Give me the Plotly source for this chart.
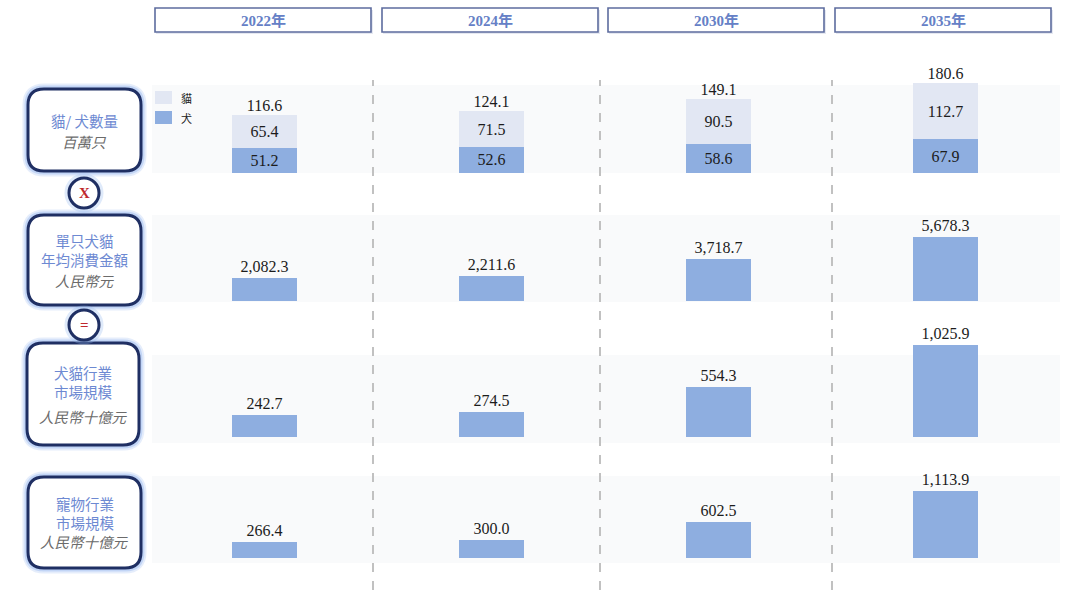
import plotly.graph_objects as go

# ---------------- data ----------------
years = ["2022年", "2024年", "2030年", "2035年"]
dogs = [51.2, 52.6, 58.6, 67.9]
cats = [65.4, 71.5, 90.5, 112.7]
totals = [116.6, 124.1, 149.1, 180.6]
spend_per_pet = [2082.3, 2211.6, 3718.7, 5678.3]
dogcat_market = [242.7, 274.5, 554.3, 1025.9]
pet_market = [266.4, 300.0, 602.5, 1113.9]

legend_names = ["貓", "犬"]
row_titles = [
    ["貓/ 犬數量"], ["單只犬貓", "年均消費金額"], ["犬貓行業", "市場規模"], ["寵物行業", "市場規模"]
]
row_units = ["百萬只", "人民幣元", "人民幣十億元", "人民幣十億元"]

W, H = 1080, 605
def PX(x):
    return x / W
def PY(y):
    return 1 - y / H

DOG = "#8eaee0"
CAT = "#e2e7f3"
SERIF = "Liberation Serif, Noto Sans CJK TC, serif"
CJK = "Noto Sans CJK TC, sans-serif"
TXT = "#1c1c1c"
NUMSIZE = 16

def fmt(v):
    return f"{v:,.1f}"

fig = go.Figure()

bw = 65 / 227
# Row 1: stacked
fig.add_trace(go.Bar(x=years, y=dogs, name=legend_names[1], marker=dict(color=DOG, line=dict(width=0)),
                     width=bw, text=[fmt(v) for v in dogs], textposition="inside",
                     insidetextanchor="middle", constraintext="none",
                     textfont=dict(family=SERIF, size=NUMSIZE, color=TXT),
                     xaxis="x", yaxis="y", hoverinfo="skip", showlegend=False))
fig.add_trace(go.Bar(x=years, y=cats, name=legend_names[0], marker=dict(color=CAT, line=dict(width=0)),
                     width=bw, text=[fmt(v) for v in cats], textposition="inside",
                     insidetextanchor="middle", constraintext="none",
                     textfont=dict(family=SERIF, size=NUMSIZE, color=TXT),
                     xaxis="x", yaxis="y", hoverinfo="skip", showlegend=False))
fig.add_trace(go.Scatter(x=years, y=totals, mode="text", text=[fmt(v) for v in totals],
                         textposition="top center", textfont=dict(family=SERIF, size=NUMSIZE, color=TXT),
                         xaxis="x", yaxis="y", hoverinfo="skip", showlegend=False, cliponaxis=False))

for vals, ya in [(spend_per_pet, "y2"), (dogcat_market, "y3"), (pet_market, "y4")]:
    fig.add_trace(go.Bar(x=years, y=vals, marker=dict(color=DOG, line=dict(width=0)), width=bw,
                         text=[fmt(v) for v in vals], textposition="outside", constraintext="none",
                         textfont=dict(family=SERIF, size=NUMSIZE, color=TXT), cliponaxis=False,
                         xaxis="x", yaxis=ya, hoverinfo="skip", showlegend=False))

# axes
x0 = -264.5 / 227
x1 = (W - 264.5) / 227
ax_common = dict(visible=False, showgrid=False, zeroline=False, fixedrange=True)
layout_axes = dict(
    xaxis=dict(domain=[0, 1], range=[x0, x1], type="category", **ax_common),
    yaxis=dict(domain=[PY(173), PY(63)], range=[0, 110 / 0.498], anchor="x", **ax_common),
    yaxis2=dict(domain=[PY(301), PY(221)], range=[0, 80 / 0.0112], anchor="x", **ax_common),
    yaxis3=dict(domain=[PY(437), PY(337)], range=[0, 100 / 0.0897], anchor="x", **ax_common),
    yaxis4=dict(domain=[PY(558), PY(478)], range=[0, 80 / 0.0602], anchor="x", **ax_common),
)

shapes = []
annotations = []

# row background bands
for (t, b) in [(85, 173), (215, 302), (355, 443), (476, 563)]:
    shapes.append(dict(type="rect", xref="paper", yref="paper", x0=PX(152), x1=PX(1060),
                       y0=PY(b), y1=PY(t), fillcolor="#f9fafb", line=dict(width=0), layer="below"))

# dashed separators
for xd in [373, 600, 832]:
    shapes.append(dict(type="line", xref="paper", yref="paper", x0=PX(xd), x1=PX(xd),
                       y0=PY(590), y1=PY(80), line=dict(color="#bbbbbb", width=1.8, dash="dash"),
                       layer="below"))

# legend swatches
for (t, b), col, nm in [((91, 104), CAT, legend_names[0]), ((111, 124), DOG, legend_names[1])]:
    shapes.append(dict(type="rect", xref="paper", yref="paper", x0=PX(155), x1=PX(172),
                       y0=PY(b), y1=PY(t), fillcolor=col, line=dict(width=0), layer="above"))
    annotations.append(dict(xref="paper", yref="paper", x=PX(179), y=PY((t + b) / 2), text=nm,
                            showarrow=False, font=dict(family=CJK, size=11, color="#222"),
                            xanchor="left", yanchor="middle"))

# header boxes
hdr = [(155, 371), (382, 598), (608, 824), (835, 1051)]
for (l, r), yr in zip(hdr, years):
    shapes.append(dict(type="rect", xref="paper", yref="paper", x0=PX(l + 1), x1=PX(r + 2),
                       y0=PY(34), y1=PY(10), fillcolor="rgba(150,165,200,0.25)",
                       line=dict(width=0), layer="above"))
    shapes.append(dict(type="rect", xref="paper", yref="paper", x0=PX(l), x1=PX(r),
                       y0=PY(32), y1=PY(8), fillcolor="white",
                       line=dict(color="#5d6c9e", width=1.6), layer="above"))
    annotations.append(dict(xref="paper", yref="paper", x=PX((l + r) / 2), y=PY(20),
                            text=f"<b>{yr}</b>", showarrow=False,
                            font=dict(family=SERIF, size=15, color="#6580c6"),
                            xanchor="center", yanchor="middle"))

def rounded(l, t, r, b, rad):
    pts = [
        f"M {PX(l + rad)} {PY(t)}",
        f"L {PX(r - rad)} {PY(t)}",
        f"Q {PX(r)} {PY(t)} {PX(r)} {PY(t + rad)}",
        f"L {PX(r)} {PY(b - rad)}",
        f"Q {PX(r)} {PY(b)} {PX(r - rad)} {PY(b)}",
        f"L {PX(l + rad)} {PY(b)}",
        f"Q {PX(l)} {PY(b)} {PX(l)} {PY(b - rad)}",
        f"L {PX(l)} {PY(t + rad)}",
        f"Q {PX(l)} {PY(t)} {PX(l + rad)} {PY(t)}",
        "Z",
    ]
    return " ".join(pts)

NAVY = "#1f2f63"
boxes = [(28, 89, 141, 171), (28, 215, 141, 305), (27, 343, 139, 445), (28, 477, 141, 568)]
for (l, t, r, b) in boxes:
    p = rounded(l, t, r, b, 16)
    shapes.append(dict(type="path", path=p, xref="paper", yref="paper",
                       line=dict(color="rgba(150,185,240,0.25)", width=11), layer="above"))
    shapes.append(dict(type="path", path=p, xref="paper", yref="paper",
                       line=dict(color="rgba(150,185,240,0.45)", width=7), layer="above"))
    shapes.append(dict(type="path", path=p, xref="paper", yref="paper", fillcolor="white",
                       line=dict(color=NAVY, width=3), layer="above"))

# operator circles
for cy, sym in [(193, "X"), (325, "=")]:
    for w, c in [(9, "rgba(150,185,240,0.3)"), (3, NAVY)]:
        shapes.append(dict(type="circle", xref="paper", yref="paper", x0=PX(69), x1=PX(99),
                           y0=PY(cy + 15), y1=PY(cy - 15), fillcolor="white",
                           line=dict(color=c, width=w), layer="above"))
    annotations.append(dict(xref="paper", yref="paper", x=PX(84), y=PY(cy), text=f"<b>{sym}</b>",
                            showarrow=False, font=dict(family=SERIF, size=15, color="#c0282d"),
                            xanchor="center", yanchor="middle"))

# row label texts (multi-line titles as one text block)
title_y = [120, 250, 382, 512.5]
unit_y = [141, 280, 416, 541]
for i in range(4):
    cx = (boxes[i][0] + boxes[i][2]) / 2
    annotations.append(dict(xref="paper", yref="paper", x=PX(cx), y=PY(title_y[i]),
                            text="<br>".join(row_titles[i]), align="center",
                            showarrow=False, font=dict(family=CJK, size=14.5, color="#6d89d2"),
                            xanchor="center", yanchor="middle"))
    annotations.append(dict(xref="paper", yref="paper", x=PX(cx), y=PY(unit_y[i]),
                            text=f"<i>{row_units[i]}</i>", showarrow=False,
                            font=dict(family=CJK, size=14.5, color="#6b6b6b"),
                            xanchor="center", yanchor="middle"))

fig.update_layout(
    width=W, height=H, margin=dict(l=0, r=0, t=0, b=0),
    paper_bgcolor="white", plot_bgcolor="rgba(0,0,0,0)",
    barmode="stack", bargap=0, showlegend=False,
    shapes=shapes, annotations=annotations,
    **layout_axes,
)

fig.write_html("out.html", config={"displayModeBar": False, "staticPlot": True},
               post_script="document.body.style.margin='0';document.body.style.padding='0';")
